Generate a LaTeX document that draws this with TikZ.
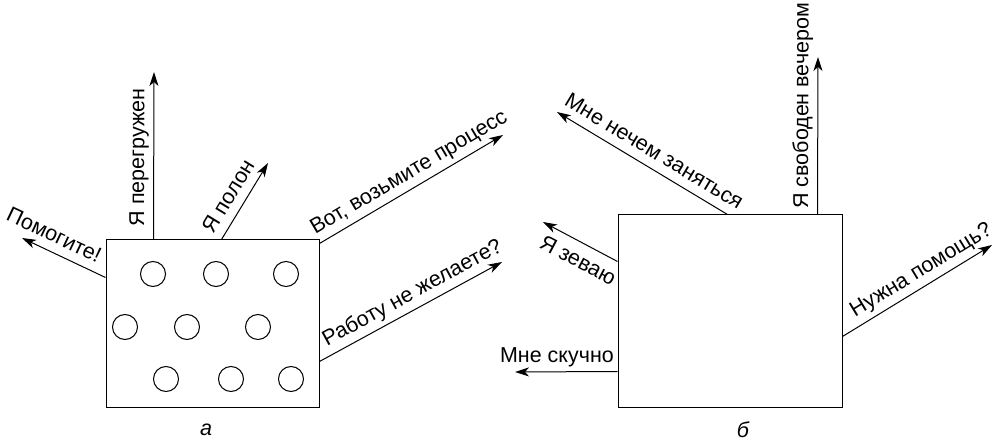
\documentclass[tikz,border=0pt]{standalone}
\usepackage{fontspec}
\setmainfont{Liberation Sans}
\usetikzlibrary{arrows.meta}

\begin{document}
\begin{tikzpicture}[x=1pt, y=1pt, line width=1pt,
    every node/.style={font=\fontsize{21.5}{24}\selectfont},
    cpu/.style={draw, rectangle, inner sep=0pt},
    proc/.style={draw, circle, minimum size=25pt, inner sep=0pt},
    msg/.style={-{Stealth[length=14pt, width=9pt, inset=4pt]}},
    txt/.style={sloped, above, text depth=0pt, inner xsep=2pt, inner ysep=9pt}]
    \useasboundingbox (0,0) rectangle (994,442);
    % overloaded processor
    \node[cpu, minimum width=213pt, minimum height=168pt](boxa)at(212.5,118){};
    \foreach \x/\y [count=\i] in {153/168, 216/168, 286/168,
                                  125/115, 187/115, 258/115,
                                  166/63, 231/63, 291/63}
        \node[proc](p\i)at(\x,\y){};
    \node[font=\fontsize{21.5}{24}\selectfont\itshape](capa)at(206,12){а};
    % ends of the messages
    \coordinate(help)at(22,204);
    \coordinate(over)at(154,370);
    \coordinate(full)at(268,279);
    \coordinate(take)at(503,307);
    \coordinate(want)at(502,180);
    % messages
    \draw[msg]([yshift=-38pt]boxa.north west)to node[txt, pos=0.7]{Помогите!}(help);
    \draw[msg]([xshift=48pt]boxa.north west)to node[txt, pos=0.49]{Я перегружен}(over);
    \draw[msg]([xshift=116pt]boxa.north west)to node[txt, pos=0.45]{Я полон}(full);
    \draw[msg]([yshift=-4pt]boxa.north east)to node[txt, pos=0.53]{Вот, возьмите процесс}(take);
    \draw[msg]([yshift=-122pt]boxa.north east)to node[txt, pos=0.55]{Работу не желаете?}(want);
    % idle processor
    \node[cpu, minimum width=224pt, minimum height=193pt](boxb)at(730,130.5){};
    \node[font=\fontsize{21.5}{24}\selectfont\itshape](capb)at(743,12){б};
    % ends of the messages
    \coordinate(nothing)at(557,330);
    \coordinate(free)at(818,385);
    \coordinate(yawn)at(543,220);
    \coordinate(bored)at(515,70);
    \coordinate(need)at(992,197);
    % messages
    \draw[msg]([xshift=110pt]boxb.north west)to node[txt, pos=0.48]{Мне нечем заняться}(nothing);
    \draw[msg]([xshift=200pt]boxb.north west)to node[txt, pos=0.69]{Я свободен вечером}(free);
    \draw[msg]([yshift=-47pt]boxb.north west)to node[txt, below, inner ysep=9pt, pos=0.42]{Я зеваю}(yawn);
    \draw[msg]([yshift=-157pt]boxb.north west)to node[txt, pos=0.59]{Мне скучно}(bored);
    \draw[msg]([yshift=-122pt]boxb.north east)to node[txt, pos=0.58]{Нужна помощь?}(need);
\end{tikzpicture}
\end{document}
